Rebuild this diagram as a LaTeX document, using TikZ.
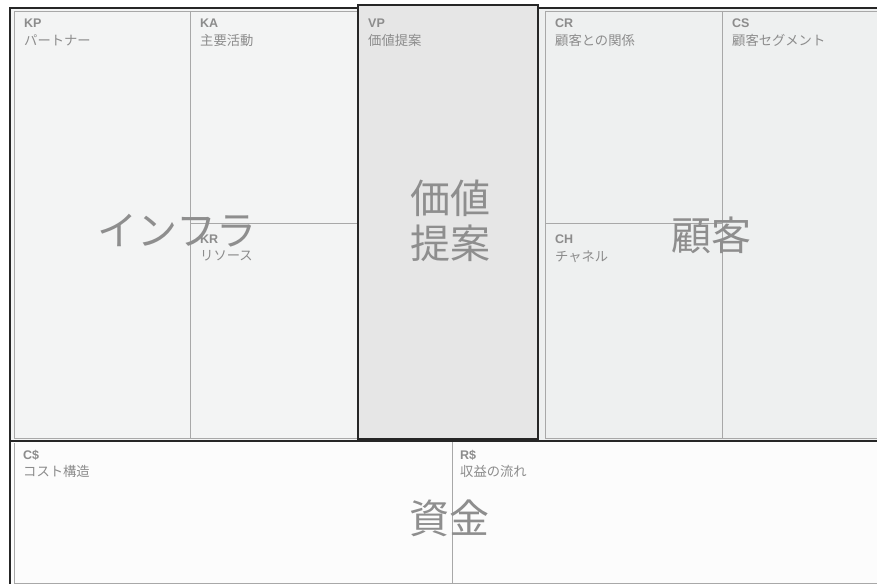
\documentclass[tikz,border=0pt]{standalone}
\usepackage{fontspec}
\setmainfont{Liberation Sans}
\newfontfamily\jp{Noto Sans CJK JP}
\begin{document}
\begin{tikzpicture}[x=1pt,y=-1pt,
  code/.style={anchor=base west,inner sep=0pt,font=\fontsize{12.5}{14}\selectfont\bfseries,text=labgrey},
  jlab/.style={anchor=base west,inner sep=0pt,font=\jp\fontsize{13.3}{15}\selectfont,text=labgrey},
  big/.style={inner sep=0pt,font=\jp\fontsize{40}{45}\selectfont,text=bigtext,align=center},
  frame/.style={line width=1.6pt,draw=black!85},
  inner/.style={line width=0.9pt,draw=gridgrey},
  divider/.style={line width=0.9pt,draw=gridgrey}]
\definecolor{labgrey}{HTML}{8C8C8C}
\definecolor{bigtext}{HTML}{8E8E8E}
\definecolor{gridgrey}{HTML}{A8A8A8}
\definecolor{leftfill}{HTML}{F3F4F4}
\definecolor{rightfill}{HTML}{EEF0F0}
\definecolor{vpfill}{HTML}{E6E6E6}
\definecolor{botfill}{HTML}{FCFCFC}
\useasboundingbox (0,0) rectangle (877,584);
\fill[white] (0,0) rectangle (877,584);
% left block
\fill[leftfill] (10,8) rectangle (358,441);
\draw[inner] (14,438) -- (14,11) -- (358,11);
% right block
\fill[rightfill] (538,8) rectangle (877,441);
\draw[inner] (545,438) -- (545,11) -- (877,11);
% top frame line
\draw[frame] (10,441) -- (10,8) -- (358,8);
\draw[frame] (538,8) -- (877,8);
% dividers top
\draw[divider] (190,11) -- (190,438);
\draw[divider] (190,223) -- (358,223);
\draw[divider] (722,11) -- (722,438);
\draw[divider] (545,223) -- (722,223);
\draw[inner] (14,438) -- (358,438);
\draw[inner] (545,438) -- (877,438);
% bottom block
\fill[botfill] (10,442) rectangle (877,584);
\draw[frame] (10,441) -- (877,441);
\draw[frame] (10,441) -- (10,584);
\draw[inner] (14,443) -- (14,584);
\draw[divider] (452,442) -- (452,584);
\draw[inner] (14,583) -- (877,583);
% value proposition
\fill[vpfill] (358,5) rectangle (538,439);
\draw[line width=1.4pt,draw=black!85] (358,5) rectangle (538,439);
% labels
\node[code] (kp) at (24,27) {KP};
\node[jlab] (kpj) at (24,45) {パートナー};
\node[code] (ka) at (200,27) {KA};
\node[jlab] (kaj) at (200,45) {主要活動};
\node[code] (vp) at (368,27) {VP};
\node[jlab] (vpj) at (368,45) {価値提案};
\node[code] (cr) at (555,27) {CR};
\node[jlab] (crj) at (555,45) {顧客との関係};
\node[code] (cs) at (732,27) {CS};
\node[jlab] (csj) at (732,45) {顧客セグメント};
\node[code] (kr) at (200,243) {KR};
\node[jlab] (krj) at (200,260) {リソース};
\node[code] (ch) at (555,243) {CH};
\node[jlab] (chj) at (555,261) {チャネル};
\node[code] (cc) at (23,459) {C\$};
\node[jlab] (ccj) at (23,476) {コスト構造};
\node[code] (rs) at (460,459) {R\$};
\node[jlab] (rsj) at (460,476) {収益の流れ};
% big titles
\node[big] (infra) at (177,231) {インフラ};
\node[big] (value) at (450,221) {価値\\提案};
\node[big] (cust) at (711,235) {顧客};
\node[big] (fund) at (449,518) {資金};
\end{tikzpicture}
\end{document}
